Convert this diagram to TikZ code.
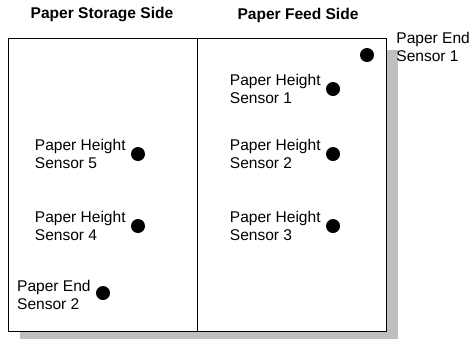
\documentclass[tikz,border=0pt]{standalone}
\usepackage{fontspec}
\setmainfont{Liberation Sans}
\usetikzlibrary{positioning}

\begin{document}
\begin{tikzpicture}[x=1bp,y=-1bp,
   sensor/.style={circle,fill=black,inner sep=0pt,minimum size=14bp},
   tag/.style={align=left,inner sep=0pt,font=\fontsize{15.6}{18}\selectfont},
   side/.style={font=\fontsize{15.6}{18}\selectfont\bfseries},
   node distance=5bp]
\useasboundingbox (0,0) rectangle (470,338);
% tray with its shadow
\fill[black!25] (20,50) rectangle (398,343);
\draw[fill=white,line width=0.9bp] (8,38) rectangle (386,331);
\coordinate (divtop) at (197,38);
\coordinate (divbot) at (197,331);
\draw[line width=0.7bp] (divtop) -- (divbot);
\node[side] (storage) at (102,15) {Paper Storage Side};
\node[side] (feed) at (298,15) {Paper Feed Side};
% sensors
\node[sensor] (end1) at (367,55) {};
\node[sensor] (h1) at (333,89) {};
\node[sensor] (h2) at (333,154) {};
\node[sensor] (h3) at (333,226) {};
\node[sensor] (h5) at (138,154) {};
\node[sensor] (h4) at (138,226) {};
\node[sensor] (end2) at (103,293) {};
% their labels
\node[tag,right=22bp of end1,yshift=8bp] (end1tag) {Paper End\\Sensor 1};
\node[tag,left=of h1] (h1tag) {Paper Height\\Sensor 1};
\node[tag,left=of h2] (h2tag) {Paper Height\\Sensor 2};
\node[tag,left=of h3] (h3tag) {Paper Height\\Sensor 3};
\node[tag,left=of h5] (h5tag) {Paper Height\\Sensor 5};
\node[tag,left=of h4] (h4tag) {Paper Height\\Sensor 4};
\node[tag,left=of end2,yshift=-2bp] (end2tag) {Paper End\\Sensor 2};
\end{tikzpicture}
\end{document}
